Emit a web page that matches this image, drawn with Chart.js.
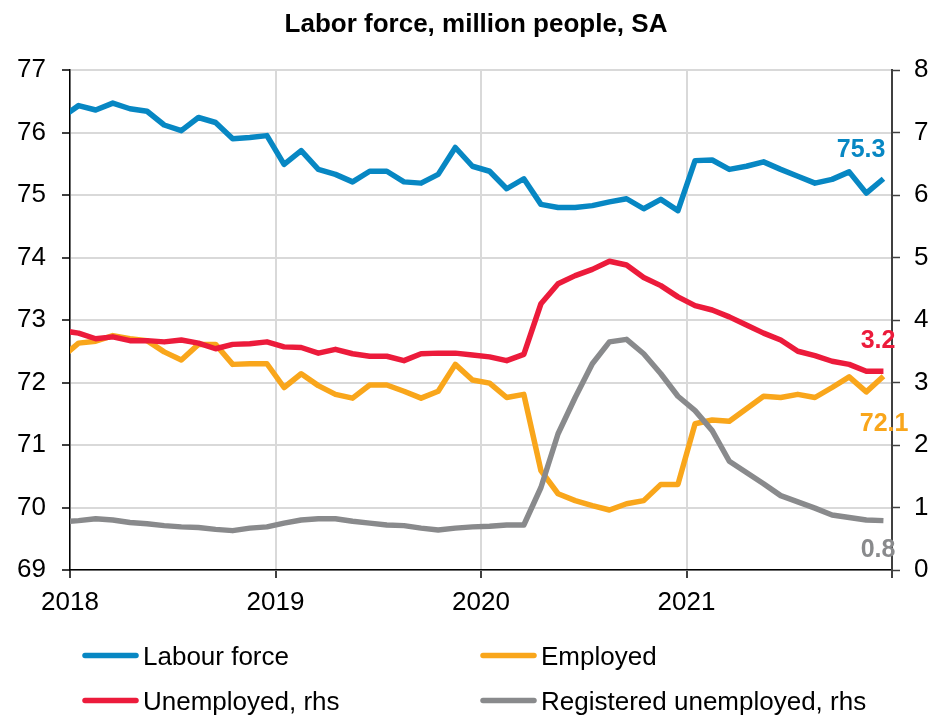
<!DOCTYPE html>
<html>
<head>
<meta charset="utf-8">
<title>Labor force</title>
<script src="https://cdn.jsdelivr.net/npm/chart.js@4.4.1/dist/chart.umd.min.js"></script>
<style>
  html, body { margin: 0; padding: 0; background: #fff; }
</style>
</head>
<body>
<canvas id="chart" width="934" height="715"></canvas>
<script>
// months, Dec 2017 .. Dec 2021 (first one sits half a month left of the axis)
const months = [
  '2017-12',
  '2018-01', '2018-02', '2018-03', '2018-04', '2018-05', '2018-06', '2018-07', '2018-08', '2018-09', '2018-10', '2018-11', '2018-12',
  '2019-01', '2019-02', '2019-03', '2019-04', '2019-05', '2019-06', '2019-07', '2019-08', '2019-09', '2019-10', '2019-11', '2019-12',
  '2020-01', '2020-02', '2020-03', '2020-04', '2020-05', '2020-06', '2020-07', '2020-08', '2020-09', '2020-10', '2020-11', '2020-12',
  '2021-01', '2021-02', '2021-03', '2021-04', '2021-05', '2021-06', '2021-07', '2021-08', '2021-09', '2021-10', '2021-11', '2021-12'
];

// million people, left axis
const labourForce = [
  76.24,
  76.43, 76.36, 76.47, 76.38, 76.34, 76.12, 76.03, 76.24, 76.16, 75.90, 75.92, 75.95,
  75.49, 75.71, 75.41, 75.33, 75.21, 75.38, 75.38, 75.21, 75.19, 75.33, 75.76, 75.46,
  75.38, 75.10, 75.26, 74.85, 74.80, 74.80, 74.83, 74.89, 74.94, 74.78, 74.93, 74.75,
  75.55, 75.56, 75.41, 75.46, 75.53, 75.41, 75.30, 75.19, 75.25, 75.37, 75.03, 75.26
];
const employed = [
  72.40,
  72.63, 72.66, 72.75, 72.70, 72.67, 72.49, 72.36, 72.61, 72.61, 72.29, 72.30, 72.30,
  71.92, 72.14, 71.95, 71.81, 71.75, 71.96, 71.96, 71.86, 71.75, 71.86, 72.29, 72.04,
  71.99, 71.76, 71.81, 70.59, 70.22, 70.11, 70.03, 69.96, 70.06, 70.11, 70.37, 70.37,
  71.34, 71.40, 71.38, 71.58, 71.78, 71.76, 71.81, 71.76, 71.92, 72.09, 71.85, 72.10
];

// million people, right axis
const unemployed = [
  3.83,
  3.79, 3.70, 3.73, 3.67, 3.67, 3.65, 3.68, 3.63, 3.54, 3.61, 3.62, 3.65,
  3.57, 3.56, 3.47, 3.53, 3.46, 3.42, 3.42, 3.35, 3.46, 3.47, 3.47, 3.44,
  3.41, 3.35, 3.45, 4.26, 4.58, 4.71, 4.81, 4.94, 4.88, 4.68, 4.55, 4.37,
  4.23, 4.16, 4.05, 3.92, 3.79, 3.68, 3.50, 3.43, 3.34, 3.29, 3.18, 3.18
];
const registered = [
  0.77,
  0.79, 0.82, 0.80, 0.76, 0.74, 0.71, 0.69, 0.68, 0.65, 0.63, 0.67, 0.69,
  0.75, 0.80, 0.82, 0.82, 0.78, 0.75, 0.72, 0.71, 0.67, 0.64, 0.67, 0.69,
  0.70, 0.72, 0.72, 1.32, 2.18, 2.76, 3.30, 3.65, 3.69, 3.46, 3.14, 2.78,
  2.55, 2.23, 1.74, 1.56, 1.38, 1.19, 1.09, 0.99, 0.88, 0.84, 0.80, 0.79
];

const leftTicks = [69, 70, 71, 72, 73, 74, 75, 76, 77];
const rightTicks = [0, 1, 2, 3, 4, 5, 6, 7, 8];

const FONT = "'Liberation Sans', Arial, Helvetica, sans-serif";
const LINE_W = 5.5;

function toPoints(values) {
  return values.map((v, i) => ({ x: i, y: v }));
}

// year boundaries sit between Dec and Jan
const yearTicks = [];
months.forEach((m, i) => { if (m.endsWith('-01')) yearTicks.push(i - 0.5); });
yearTicks.push(months.length - 0.5);

function series(label, values, color, axis, order, endLabel) {
  return {
    label: label,
    data: toPoints(values),
    yAxisID: axis,
    borderColor: color,
    backgroundColor: color,
    borderWidth: LINE_W,
    pointRadius: 0,
    tension: 0,
    borderJoinStyle: 'round',
    clip: 0,
    order: order,
    endLabel: endLabel
  };
}

const titlePlugin = {
  id: 'topTitle',
  afterDraw(chart) {
    const ctx = chart.ctx;
    ctx.save();
    ctx.fillStyle = '#000';
    ctx.font = 'bold 26px ' + FONT;
    ctx.textAlign = 'center';
    ctx.textBaseline = 'alphabetic';
    ctx.fillText('Labor force, million people, SA', 476, 32);
    ctx.restore();
  }
};

// value at the last point of each series
const endLabelPlugin = {
  id: 'endLabels',
  afterDatasetsDraw(chart) {
    const ctx = chart.ctx;
    ctx.save();
    ctx.font = 'bold 25px ' + FONT;
    ctx.textAlign = 'right';
    ctx.textBaseline = 'middle';
    chart.data.datasets.forEach((ds, i) => {
      if (!ds.endLabel) return;
      const meta = chart.getDatasetMeta(i);
      const pt = meta.data[meta.data.length - 1];
      const val = ds.data[ds.data.length - 1].y;
      ctx.fillStyle = ds.borderColor;
      ctx.fillText(val.toFixed(1), pt.x + ds.endLabel.dx, pt.y + ds.endLabel.dy);
    });
    ctx.restore();
  }
};

// two-column legend under the plot
const legendPlugin = {
  id: 'gridLegend',
  afterDraw(chart) {
    const ctx = chart.ctx;
    const cols = [83, 481];
    const rows = [655.5, 700.5];
    ctx.save();
    ctx.font = '26px ' + FONT;
    ctx.textAlign = 'left';
    ctx.textBaseline = 'alphabetic';
    chart.data.datasets.forEach((ds, i) => {
      const x = cols[i % 2];
      const y = rows[Math.floor(i / 2)];
      ctx.strokeStyle = ds.borderColor;
      ctx.lineWidth = LINE_W;
      ctx.lineCap = 'round';
      ctx.beginPath();
      ctx.moveTo(x + 2, y);
      ctx.lineTo(x + 53, y);
      ctx.stroke();
      ctx.fillStyle = '#000';
      ctx.fillText(ds.label, x + 60, y + 9);
    });
    ctx.restore();
  }
};

const ctx = document.getElementById('chart').getContext('2d');
const chart = new Chart(ctx, {
  type: 'line',
  data: {
    datasets: [
      series('Labour force', labourForce, '#0787c3', 'y', 3, { dx: 2, dy: -29 }),
      series('Employed', employed, '#f9a61b', 'y', 2, { dx: 25, dy: 48 }),
      series('Unemployed, rhs', unemployed, '#ec1b3b', 'y1', 1, { dx: 12, dy: -30 }),
      series('Registered unemployed, rhs', registered, '#898a8c', 'y1', 0, { dx: 12, dy: 29 })
    ]
  },
  options: {
    responsive: false,
    animation: false,
    devicePixelRatio: 1,
    layout: { padding: { top: 70, right: 0, bottom: 0, left: 0 } },
    plugins: {
      legend: { display: false },
      title: { display: false },
      tooltip: { enabled: false }
    },
    scales: {
      x: {
        type: 'linear',
        min: 0.5,
        max: months.length - 0.5,
        afterBuildTicks(scale) {
          scale.ticks = yearTicks.map(v => ({ value: v }));
        },
        afterFit(scale) { scale.height = 145; },
        ticks: {
          autoSkip: false,
          maxRotation: 0,
          padding: 9,
          color: '#000',
          font: { family: FONT, size: 26 },
          callback(value) {
            const m = months[value + 0.5];
            return m ? m.slice(0, 4) : '';
          }
        },
        grid: { color: '#d9d9d9', lineWidth: 2, tickLength: 8, tickColor: '#000', tickWidth: 1.5 },
        border: { color: '#000', width: 1.5 }
      },
      y: {
        position: 'left',
        min: leftTicks[0],
        max: leftTicks[leftTicks.length - 1],
        afterBuildTicks(scale) {
          scale.ticks = leftTicks.map(v => ({ value: v }));
        },
        afterFit(scale) { scale.width = 70; },
        ticks: {
          padding: 16,
          color: '#000',
          font: { family: FONT, size: 26 }
        },
        grid: { color: '#d9d9d9', lineWidth: 2, tickLength: 8, tickColor: '#000', tickWidth: 1.5 },
        border: { color: '#000', width: 1.5 }
      },
      y1: {
        position: 'right',
        min: rightTicks[0],
        max: rightTicks[rightTicks.length - 1],
        afterBuildTicks(scale) {
          scale.ticks = rightTicks.map(v => ({ value: v }));
        },
        afterFit(scale) { scale.width = 42; },
        ticks: {
          padding: 14,
          color: '#000',
          font: { family: FONT, size: 26 }
        },
        grid: { drawOnChartArea: false, tickLength: 8, tickColor: '#404040', tickWidth: 1.5 },
        border: { color: '#404040', width: 2 }
      }
    }
  },
  plugins: [titlePlugin, endLabelPlugin, legendPlugin]
});
</script>
</body>
</html>
